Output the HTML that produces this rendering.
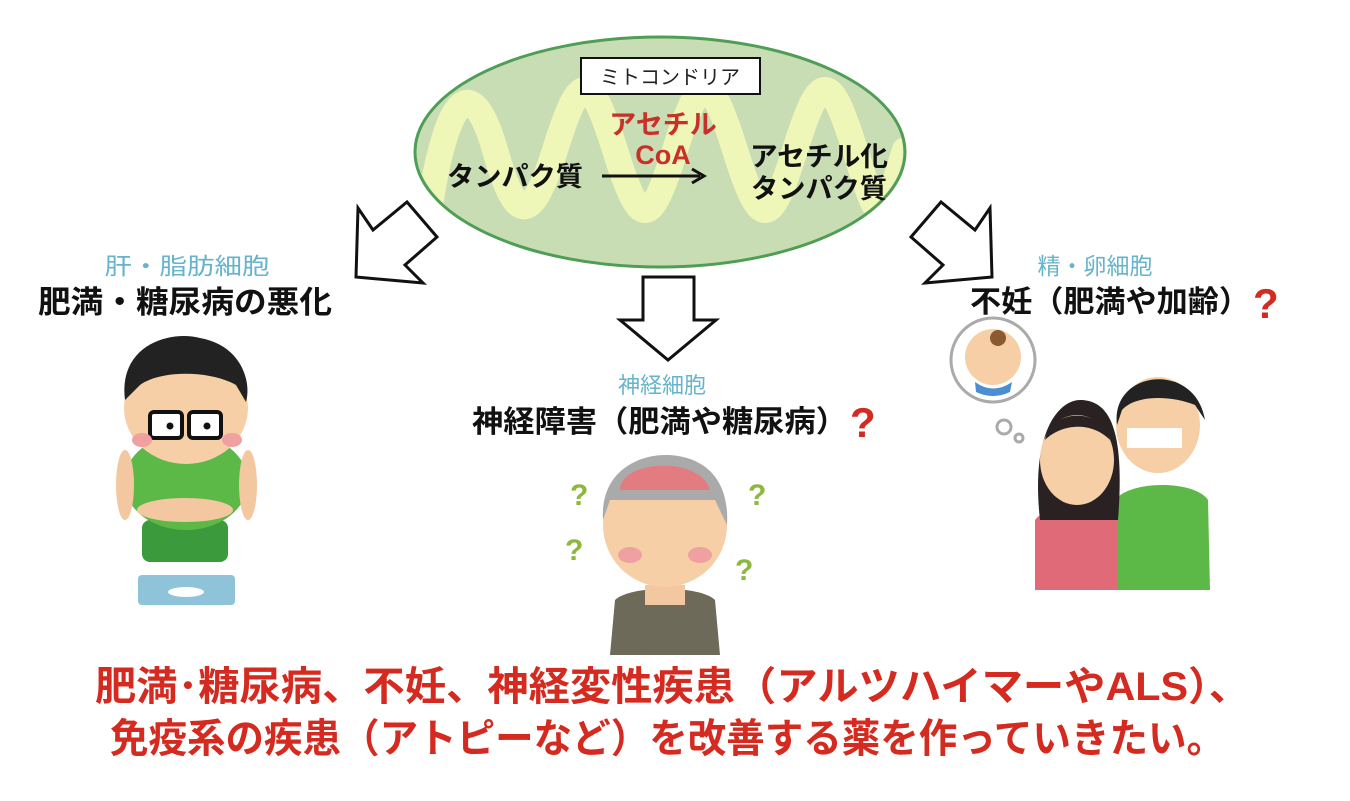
<!DOCTYPE html>
<html><head><meta charset="utf-8"><style>
html,body{margin:0;padding:0;background:#fff;}
svg text{font-family:"Liberation Sans","Noto Sans CJK JP",sans-serif;}
</style></head><body>
<svg width="1350" height="796" viewBox="0 0 1350 796" xmlns="http://www.w3.org/2000/svg">
<defs><clipPath id="ec"><ellipse cx="660" cy="152" rx="243" ry="113"/></clipPath></defs>
<!-- mitochondria -->
<ellipse cx="660" cy="152" rx="245" ry="115" fill="#c9ddb4" stroke="#4f9e55" stroke-width="3"/>
<path clip-path="url(#ec)" d="M430 205 C 450 80, 475 80, 495 150 S 530 230, 555 150 S 590 70, 615 150 S 650 230, 675 150 S 710 70, 735 150 S 770 230, 795 150 S 830 70, 855 150 S 880 230, 905 150" fill="none" stroke="#eef6b8" stroke-width="26" stroke-linecap="round"/>
<rect x="581" y="58" width="179" height="36" fill="#fff" stroke="#111" stroke-width="2"/>
<text x="670" y="84" font-size="20" text-anchor="middle" fill="#222">ミトコンドリア</text>
<text x="663" y="134" font-size="27" font-weight="bold" text-anchor="middle" fill="#c8302a">アセチル</text>
<text x="663" y="164" font-size="27" font-weight="bold" text-anchor="middle" fill="#c8302a">CoA</text>
<text x="515" y="186" font-size="27" font-weight="bold" text-anchor="middle" fill="#111" textLength="136" lengthAdjust="spacingAndGlyphs">タンパク質</text>
<line x1="602" y1="176" x2="700" y2="176" stroke="#111" stroke-width="3"/>
<path d="M692 169 L704 176 L692 183" fill="none" stroke="#111" stroke-width="3"/>
<text x="819" y="166" font-size="27" font-weight="bold" text-anchor="middle" fill="#111" textLength="138" lengthAdjust="spacingAndGlyphs">アセチル化</text>
<text x="819" y="198" font-size="27" font-weight="bold" text-anchor="middle" fill="#111" textLength="136" lengthAdjust="spacingAndGlyphs">タンパク質</text>
<!-- arrows -->
<polygon points="358,208 373,230 407,202 437,237 405,265 423,283 356,277" fill="#fff" stroke="#111" stroke-width="3" stroke-linejoin="miter"/>
<polygon points="643,277 694,277 694,320 716,320 668,360 620,320 643,320" fill="#fff" stroke="#111" stroke-width="3"/>
<polygon points="990,208 975,230 941,202 911,237 943,265 925,283 992,277" fill="#fff" stroke="#111" stroke-width="3"/>
<!-- labels -->
<text x="187" y="274" font-size="23" text-anchor="middle" fill="#66b4cc" textLength="165" lengthAdjust="spacingAndGlyphs">肝・脂肪細胞</text>
<text x="38" y="313" font-size="31" font-weight="bold" fill="#111" textLength="294" lengthAdjust="spacingAndGlyphs">肥満・糖尿病の悪化</text>
<text x="662" y="393" font-size="22" text-anchor="middle" fill="#66b4cc">神経細胞</text>
<text x="472" y="432" font-size="30" font-weight="bold" fill="#111" textLength="375" lengthAdjust="spacingAndGlyphs">神経障害（肥満や糖尿病）</text>
<text x="850" y="437" font-size="42" font-weight="bold" fill="#d32a22">?</text>
<text x="1095" y="274" font-size="23" text-anchor="middle" fill="#66b4cc">精・卵細胞</text>
<text x="970" y="312" font-size="30" font-weight="bold" fill="#111" textLength="280" lengthAdjust="spacingAndGlyphs">不妊（肥満や加齢）</text>
<text x="1253" y="318" font-size="42" font-weight="bold" fill="#d32a22">?</text>
<!-- boy -->
<g>
<rect x="138" y="575" width="97" height="30" rx="4" fill="#8fc3d9"/>
<ellipse cx="186" cy="592" rx="18" ry="5" fill="#fff"/>
<rect x="142" y="520" width="86" height="42" rx="8" fill="#3a9a3c"/>
<ellipse cx="186" cy="482" rx="62" ry="48" fill="#5cb847"/>
<ellipse cx="185" cy="510" rx="48" ry="12" fill="#f3c7a0"/>
<ellipse cx="125" cy="485" rx="9" ry="35" fill="#f3c7a0"/>
<ellipse cx="248" cy="485" rx="9" ry="35" fill="#f3c7a0"/>
<ellipse cx="186" cy="408" rx="62" ry="56" fill="#f6cfa6"/>
<path d="M125 400 C 118 345, 170 330, 200 338 C 240 345, 252 380, 246 402 L 236 385 C 210 370, 160 370, 140 385 Z" fill="#222"/>
<rect x="150" y="412" width="32" height="26" rx="4" fill="#fff" stroke="#111" stroke-width="4"/>
<rect x="189" y="412" width="32" height="26" rx="4" fill="#fff" stroke="#111" stroke-width="4"/>
<circle cx="170" cy="426" r="3.5" fill="#111"/><circle cx="207" cy="426" r="3.5" fill="#111"/>
<ellipse cx="142" cy="440" rx="10" ry="7" fill="#f0a0a0"/><ellipse cx="232" cy="440" rx="10" ry="7" fill="#f0a0a0"/>
</g>
<!-- old man -->
<g>
<path d="M610 655 L615 600 C 630 585, 700 585, 715 600 L720 655 Z" fill="#6d6a5a"/>
<rect x="645" y="585" width="40" height="20" fill="#f3c7a0"/>
<ellipse cx="665" cy="525" rx="62" ry="62" fill="#f6cfa6"/>
<path d="M603 520 C 600 470, 640 455, 665 455 C 700 455, 730 475, 727 525 L 715 500 L 610 500 Z" fill="#aaa"/>
<path d="M620 490 C 620 460, 700 455, 710 490 Z" fill="#e37c80"/>
<ellipse cx="630" cy="555" rx="12" ry="8" fill="#f0a0a0"/><ellipse cx="700" cy="555" rx="12" ry="8" fill="#f0a0a0"/>
<text x="570" y="505" font-size="30" font-weight="bold" fill="#8cb93c">?</text>
<text x="748" y="505" font-size="30" font-weight="bold" fill="#8cb93c">?</text>
<text x="565" y="560" font-size="30" font-weight="bold" fill="#8cb93c">?</text>
<text x="735" y="580" font-size="30" font-weight="bold" fill="#8cb93c">?</text>
</g>
<!-- couple -->
<g>
<circle cx="993" cy="360" r="42" fill="#fff" stroke="#aaa" stroke-width="3"/>
<circle cx="993" cy="357" r="28" fill="#f6cfa6"/>
<path d="M975 382 Q993 395 1012 382 L1010 392 Q993 400 976 392 Z" fill="#4b8fd0"/>
<circle cx="998" cy="338" r="8" fill="#8b5a30"/>
<circle cx="1004" cy="427" r="7" fill="#fff" stroke="#aaa" stroke-width="3"/>
<circle cx="1019" cy="438" r="4" fill="#fff" stroke="#aaa" stroke-width="3"/>
<path d="M1115 590 L1115 500 C 1130 480, 1195 480, 1208 500 L1210 590 Z" fill="#5cb847"/>
<ellipse cx="1158" cy="425" rx="42" ry="48" fill="#f6cfa6"/>
<path d="M1117 425 C 1110 370, 1195 360, 1205 420 L 1195 405 C 1170 395, 1135 395, 1122 410 Z" fill="#222"/>
<rect x="1127" y="428" width="55" height="20" fill="#fff"/>
<path d="M1035 590 L1035 520 C 1050 500, 1105 500, 1118 520 L1118 590 Z" fill="#e06a78"/>
<path d="M1040 520 C 1030 430, 1060 400, 1080 400 C 1110 400, 1125 430, 1118 520 Z" fill="#2a2222"/>
<ellipse cx="1077" cy="460" rx="37" ry="45" fill="#f6cfa6"/>
<path d="M1045 440 C 1050 410, 1100 405, 1110 440 C 1090 420, 1060 425, 1045 440 Z" fill="#2a2222"/>
</g>
<!-- bottom text -->
<text x="95" y="700" font-size="40" font-weight="bold" fill="#d42a20" textLength="1155" lengthAdjust="spacingAndGlyphs">肥満･糖尿病、不妊、神経変性疾患（アルツハイマーやALS）、</text>
<text x="110" y="752" font-size="40" font-weight="bold" fill="#d42a20" textLength="1115" lengthAdjust="spacingAndGlyphs">免疫系の疾患（アトピーなど）を改善する薬を作っていきたい。</text>
</svg>
</body></html>
